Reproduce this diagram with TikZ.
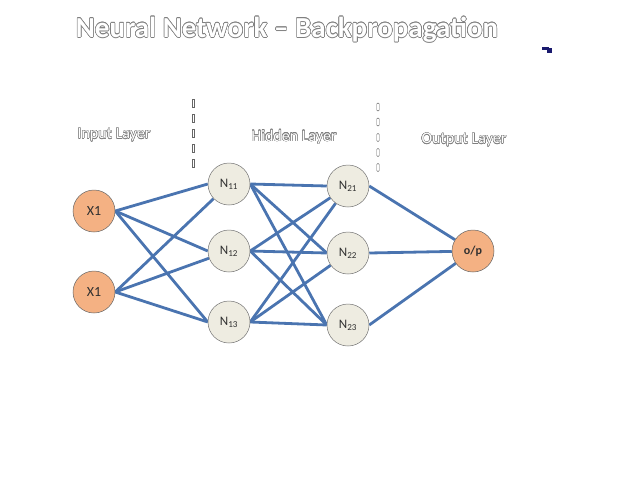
\documentclass[tikz,border=0pt]{standalone}
\usepackage{fontspec}
\setmainfont{Carlito}
\usepackage{contour}
\usetikzlibrary{backgrounds}
\definecolor{nodeorange}{HTML}{F4B183}
\definecolor{nodegray}{HTML}{EEECE1}
\definecolor{edgeblue}{HTML}{4A74B0}
\definecolor{txtgray}{HTML}{303030}
\definecolor{outlinegray}{HTML}{7F7F7F}
\definecolor{blobblue}{HTML}{1A1A6E}
\newcommand{\outlined}[2]{{\contourlength{#1}\contour{outlinegray}{\textcolor{white}{#2}}}}
\tikzset{
  inpnode/.style={circle, minimum size=42pt, inner sep=0pt, fill=nodeorange, draw=black!60, line width=0.5pt, font=\fontsize{14}{14}\selectfont, text=txtgray},
  hidnode/.style={circle, minimum size=42pt, inner sep=0pt, fill=nodegray, draw=black!55, line width=0.5pt, font=\fontsize{13}{13}\selectfont, text=txtgray},
  conn/.style={draw=edgeblue, line width=2.8pt},
  layerlabel/.style={font=\fontsize{16}{16}\selectfont, inner sep=0pt},
  dashmark/.style={draw=black!60, fill=white, line width=0.45pt, minimum width=2.5pt, minimum height=8pt, inner sep=0pt},
  dashmarkr/.style={dashmark, rounded corners=1pt}
}
\begin{document}
\begin{tikzpicture}[x=1pt,y=-1pt]
\useasboundingbox (0,0) rectangle (640,480);
% title
\node[inner sep=0pt, font=\bfseries\fontsize{29}{29}\selectfont] (title) at (287,30) {\outlined{0.6pt}{Neural Network – Backpropagation}};
% small artifact
\fill[blobblue] (542,47) rectangle (549,50);
\fill[blobblue] (547,48) rectangle (552,53);
% layer labels
\node[layerlabel] (lin) at (114,135) {\outlined{0.4pt}{Input Layer}};
\node[layerlabel] (lhid) at (294,137) {\outlined{0.4pt}{Hidden Layer}};
\node[layerlabel] (lout) at (464,140) {\outlined{0.4pt}{Output Layer}};
% separators
\foreach \yy [count=\k] in {103,118.5,133.5,148.5,163.5} {
  \node[dashmark] (sl\k) at (193,\yy) {};
}
\foreach \yy [count=\k] in {107,122,137.5,152.5,167.5} {
  \node[dashmarkr] (sr\k) at (378,\yy) {};
}
% nodes
\node[inpnode] (x1) at (94,211) {X1};
\node[inpnode] (x2) at (94,292) {X1};
\node[hidnode] (n11) at (229,184) {N\textsubscript{11}};
\node[hidnode] (n12) at (229,251) {N\textsubscript{12}};
\node[hidnode] (n13) at (229,322) {N\textsubscript{13}};
\node[hidnode] (n21) at (348,186) {N\textsubscript{21}};
\node[hidnode] (n22) at (348,253) {N\textsubscript{22}};
\node[hidnode] (n23) at (348,325) {N\textsubscript{23}};
\node[inpnode, font=\bfseries\fontsize{12}{12}\selectfont] (op) at (473,251) {o/p};
% connectors
\begin{scope}[on background layer]
\draw[conn] (x1.east) -- (n11.west);
\draw[conn] (x1.east) -- (n12.west);
\draw[conn] (x1.east) -- (n13.west);
\draw[conn] (x2.east) -- (n11);
\draw[conn] (x2.east) -- (n12);
\draw[conn] (x2.east) -- (n13.west);
\draw[conn] (n11.east) -- (n21.west);
\draw[conn] (n11.east) -- (n22.west);
\draw[conn] (n11.east) -- (n23.west);
\draw[conn] (n12.east) -- (n21);
\draw[conn] (n12.east) -- (n22.west);
\draw[conn] (n12.east) -- (n23.west);
\draw[conn] (n13.east) -- (n21);
\draw[conn] (n13.east) -- (n22);
\draw[conn] (n13.east) -- (n23.west);
\draw[conn] (n21.east) -- (op);
\draw[conn] (n22.east) -- (op);
\draw[conn] (n23.east) -- (op);
\end{scope}
\end{tikzpicture}
\end{document}
